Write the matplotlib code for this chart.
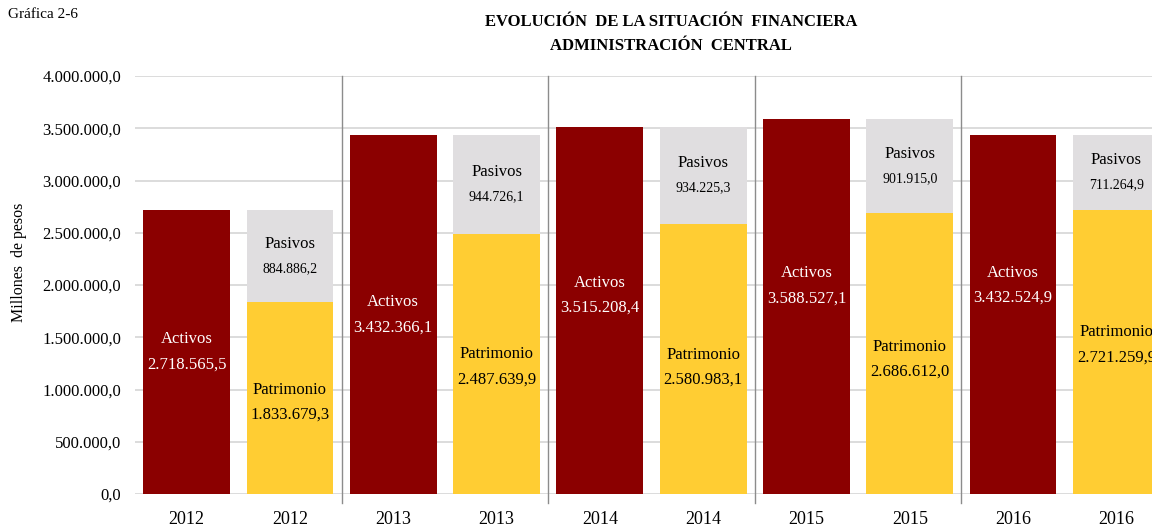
import matplotlib
matplotlib.use("Agg")
import matplotlib.pyplot as plt
import numpy as np

years = ["2012", "2013", "2014", "2015", "2016"]
activos = [2718565.5, 3432366.1, 3515208.4, 3588527.1, 3432524.9]
patrimonio = [1833679.3, 2487639.9, 2580983.1, 2686612.0, 2721259.9]
pasivos = [884886.2, 944726.1, 934225.3, 901915.0, 711264.9]
yticks = [0, 500000, 1000000, 1500000, 2000000, 2500000, 3000000, 3500000, 4000000]

# manual label nudges (points, upward) as placed in the original
act_dy = [0, 0, 11, 15, 21]
pat_dy = [-3, -2, -6, -4, 5]

RED = "#8B0000"
YEL = "#FFCD33"
GRY = "#E0DEE0"

plt.rcParams["font.family"] = ["Liberation Serif", "DejaVu Serif"]


def fmt(v):
    s = f"{v:,.1f}"
    return s.replace(",", "X").replace(".", ",").replace("X", ".")


fig = plt.figure(figsize=(11.52, 5.27), dpi=100)
ax = fig.add_axes([135 / 1152, 33 / 527, 1033 / 1152, 418 / 527])

n = len(years)
xa = np.arange(n) * 2
xp = xa + 1
w = 0.84

ax.bar(xa, activos, width=w, color=RED, zorder=3)
ax.bar(xp, patrimonio, width=w, color=YEL, zorder=3)
ax.bar(xp, pasivos, width=w, bottom=patrimonio, color=GRY, zorder=3)

half = 9  # points between the centre of the pair and each line


def pair(x, y, top, bottom, color, fs_top, fs_bot, dy=0):
    ax.annotate(top, (x, y), xytext=(0, dy + half), textcoords="offset points",
                ha="center", va="center", color=color, fontsize=fs_top, zorder=4,
                annotation_clip=False)
    ax.annotate(bottom, (x, y), xytext=(0, dy - half), textcoords="offset points",
                ha="center", va="center", color=color, fontsize=fs_bot, zorder=4,
                annotation_clip=False)


for i in range(n):
    pair(xa[i], activos[i] / 2, "Activos", fmt(activos[i]), "white", 12, 12, act_dy[i])
    pair(xp[i], patrimonio[i] / 2, "Patrimonio", fmt(patrimonio[i]), "black", 12, 12, pat_dy[i])
    pair(xp[i], patrimonio[i] + pasivos[i] / 2, "Pasivos", fmt(pasivos[i]), "black", 12, 10)

for k in range(n - 1):
    ax.axvline(xp[k] + 0.5, ymin=-0.022, ymax=1.0, color="#8C8C8C", lw=1.0,
               clip_on=False, zorder=2)

ax.set_xlim(-0.5, 2 * n - 0.5)
ax.set_ylim(0, 4000000)
ax.set_yticks(yticks)
ax.set_yticklabels([fmt(v) for v in yticks], fontsize=12)
ax.set_xticks(np.concatenate([xa, xp]))
ax.set_xticklabels(years + years, fontsize=13)
ax.yaxis.grid(True, color="#D9D9D9", lw=1.3, zorder=0)
ax.set_axisbelow(True)
for s in ax.spines.values():
    s.set_visible(False)
ax.tick_params(axis="both", length=0)
ax.tick_params(axis="y", pad=10)
ax.tick_params(axis="x", pad=12)

fig.text(19 / 1152, 1 - 262 / 527, "Millones  de pesos", rotation=90, ha="center",
         va="center", fontsize=11.5)
fig.text(8 / 1152, 1 - 14 / 527, "Gráfica 2-6", ha="left", va="center", fontsize=11)
fig.text(671 / 1152, 1 - 22 / 527, "EVOLUCIÓN  DE LA SITUACIÓN  FINANCIERA",
         ha="center", va="center", fontsize=12, fontweight="bold")
fig.text(671 / 1152, 1 - 46 / 527, "ADMINISTRACIÓN  CENTRAL",
         ha="center", va="center", fontsize=12, fontweight="bold")

fig.savefig("out.png", dpi=100)
